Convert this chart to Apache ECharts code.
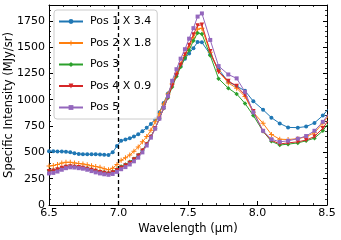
<!DOCTYPE html>
<html>
<head>
<meta charset="utf-8">
<script src="https://cdn.jsdelivr.net/npm/echarts@6/dist/echarts.min.js"></script>
<style>html,body{margin:0;padding:0;background:#fff;}#c{width:341px;height:240px;}</style>
</head>
<body>
<div id="c"></div>
<script>
const wavelength = [6.500, 6.531, 6.561, 6.592, 6.622, 6.653, 6.683, 6.714, 6.744, 6.775, 6.806, 6.836, 6.867, 6.897, 6.928, 6.958, 6.989, 7.019, 7.050, 7.081, 7.111, 7.142, 7.172, 7.203, 7.233, 7.264, 7.294, 7.325, 7.356, 7.386, 7.417, 7.447, 7.478, 7.508, 7.539, 7.569, 7.600, 7.66, 7.72, 7.79, 7.85, 7.91, 7.97, 8.04, 8.10, 8.16, 8.22, 8.29, 8.35, 8.41, 8.47, 8.54];
const pos1 = [510, 510, 508, 508, 507, 500, 492, 485, 483, 482, 482, 482, 480, 477, 475, 500, 560, 610, 622, 635, 650, 672, 700, 735, 770, 815, 880, 970, 1060, 1150, 1240, 1320, 1390, 1440, 1490, 1548, 1545, 1430, 1290, 1170, 1130, 1085, 985, 905, 830, 775, 737, 735, 745, 780, 850, 960];
const pos2 = [370, 375, 385, 398, 405, 405, 400, 395, 390, 382, 372, 365, 358, 345, 335, 350, 385, 425, 448, 475, 510, 550, 600, 650, 710, 790, 870, 960, 1055, 1150, 1250, 1340, 1420, 1500, 1590, 1670, 1680, 1450, 1270, 1160, 1110, 1030, 880, 776, 670, 625, 622, 630, 648, 687, 776, 900];
const pos3 = [325, 330, 340, 355, 365, 368, 365, 360, 355, 348, 338, 328, 318, 310, 305, 315, 340, 365, 385, 410, 440, 475, 520, 580, 650, 730, 820, 920, 1020, 1120, 1220, 1310, 1400, 1470, 1560, 1635, 1625, 1420, 1200, 1110, 1055, 965, 850, 700, 605, 570, 578, 590, 610, 635, 705, 830];
const pos4 = [320, 325, 338, 352, 362, 365, 362, 358, 352, 343, 333, 322, 312, 303, 298, 308, 330, 355, 375, 400, 432, 468, 515, 575, 645, 728, 820, 920, 1025, 1130, 1235, 1330, 1430, 1520, 1620, 1705, 1712, 1460, 1265, 1178, 1130, 1045, 890, 700, 615, 580, 590, 600, 617, 650, 730, 860];
const pos5 = [300, 305, 318, 335, 350, 358, 356, 350, 345, 335, 322, 310, 300, 292, 287, 295, 315, 340, 360, 385, 415, 450, 500, 565, 640, 725, 820, 925, 1035, 1180, 1290, 1390, 1480, 1580, 1680, 1790, 1820, 1568, 1320, 1240, 1203, 1075, 880, 705, 625, 600, 610, 630, 655, 705, 790, 920];
const seriesNames = ['Pos 1 X 3.4', 'Pos 2 X 1.8', 'Pos 3', 'Pos 4 X 0.9', 'Pos 5'];
const seriesValues = [pos1, pos2, pos3, pos4, pos5];
const xTicks = [6.5, 7.0, 7.5, 8.0, 8.5];
const yTicks = [0, 250, 500, 750, 1000, 1250, 1500, 1750];
const dashedAt = 7.0;

const colors = ['#1f77b4', '#ff7f0e', '#2ca02c', '#d62728', '#9467bd'];
const symbols = ['circle', 'path://M4,0 H6 V4 H10 V6 H6 V10 H4 V6 H0 V4 H4 Z', 'diamond', 'path://M0,0 L10,0 L5,10 Z', 'rect'];
const symSizes = [4, 5, 4.5, 4.5, 4];
const FONT = 'DejaVu Sans';

const chart = echarts.init(document.getElementById('c'), null, {renderer: 'canvas'});

const tickCommon = {
  axisTick: {show: true, inside: true, length: 4, lineStyle: {color: '#000', width: 1}},
  minorTick: {show: true, splitNumber: 5, length: 2, lineStyle: {color: '#000', width: 0.8}},
  axisLine: {show: true, onZero: false, lineStyle: {color: '#000', width: 1}},
  splitLine: {show: false}
};

const series = seriesValues.map((vals, i) => ({
  name: seriesNames[i],
  type: 'line',
  xAxisIndex: 0, yAxisIndex: 0,
  data: wavelength.map((x, j) => [x, vals[j]]),
  symbol: symbols[i],
  symbolSize: symSizes[i],
  showSymbol: true,
  showAllSymbol: true,
  lineStyle: {width: 1, color: colors[i]},
  itemStyle: {color: colors[i]},
  clip: true,
  animation: false,
  z: 2 + i
}));
series[0].markLine = {
  silent: true, symbol: 'none', animation: false,
  label: {show: false},
  lineStyle: {type: [4, 3], color: '#000', width: 1.3},
  data: [{xAxis: dashedAt}]
};

chart.setOption({
  animation: false,
  backgroundColor: '#fff',
  textStyle: {fontFamily: FONT},
  grid: {left: 49, right: 14, top: 5, bottom: 35, containLabel: false, outerBoundsMode: 'none'},
  legend: {
    orient: 'vertical', left: 54, top: 10,
    padding: [6, 6, 6, 4],
    itemWidth: 24, itemHeight: 6, itemGap: 10.5,
    backgroundColor: 'rgba(255,255,255,0.8)',
    borderColor: '#cccccc', borderWidth: 1, borderRadius: 3,
    textStyle: {fontFamily: FONT, fontSize: 11, color: '#000', padding: [0, 0, 0, 2]},
    data: seriesNames
  },
  xAxis: [
    Object.assign({
      type: 'value', position: 'bottom', min: 6.5, max: 8.5, interval: 0.5,
      name: 'Wavelength (\u03bcm)', nameLocation: 'middle', nameGap: 18, nameMoveOverlap: false,
      nameTextStyle: {fontFamily: FONT, fontSize: 11.5, color: '#000'},
      axisLabel: {fontFamily: FONT, fontSize: 11, color: '#000', margin: 3,
        formatter: v => xTicks.some(t => Math.abs(t - v) < 1e-6) ? v.toFixed(1) : ''}
    }, tickCommon),
    Object.assign({
      type: 'value', position: 'top', min: 6.5, max: 8.5, interval: 0.5,
      axisLabel: {show: false}
    }, tickCommon)
  ],
  yAxis: [
    Object.assign({
      type: 'value', position: 'left', min: 0, max: 1900, interval: 250,
      name: 'Specific Intensity (MJy/sr)', nameLocation: 'middle', nameGap: 34, nameMoveOverlap: false,
      nameTextStyle: {fontFamily: FONT, fontSize: 11.5, color: '#000'},
      axisLabel: {fontFamily: FONT, fontSize: 11, color: '#000', margin: 4, showMaxLabel: false,
        formatter: v => yTicks.indexOf(v) >= 0 ? String(v) : ''}
    }, tickCommon),
    Object.assign({
      type: 'value', position: 'right', min: 0, max: 1900, interval: 250,
      axisLabel: {show: false}
    }, tickCommon)
  ],
  series: series
});
</script>
</body>
</html>
